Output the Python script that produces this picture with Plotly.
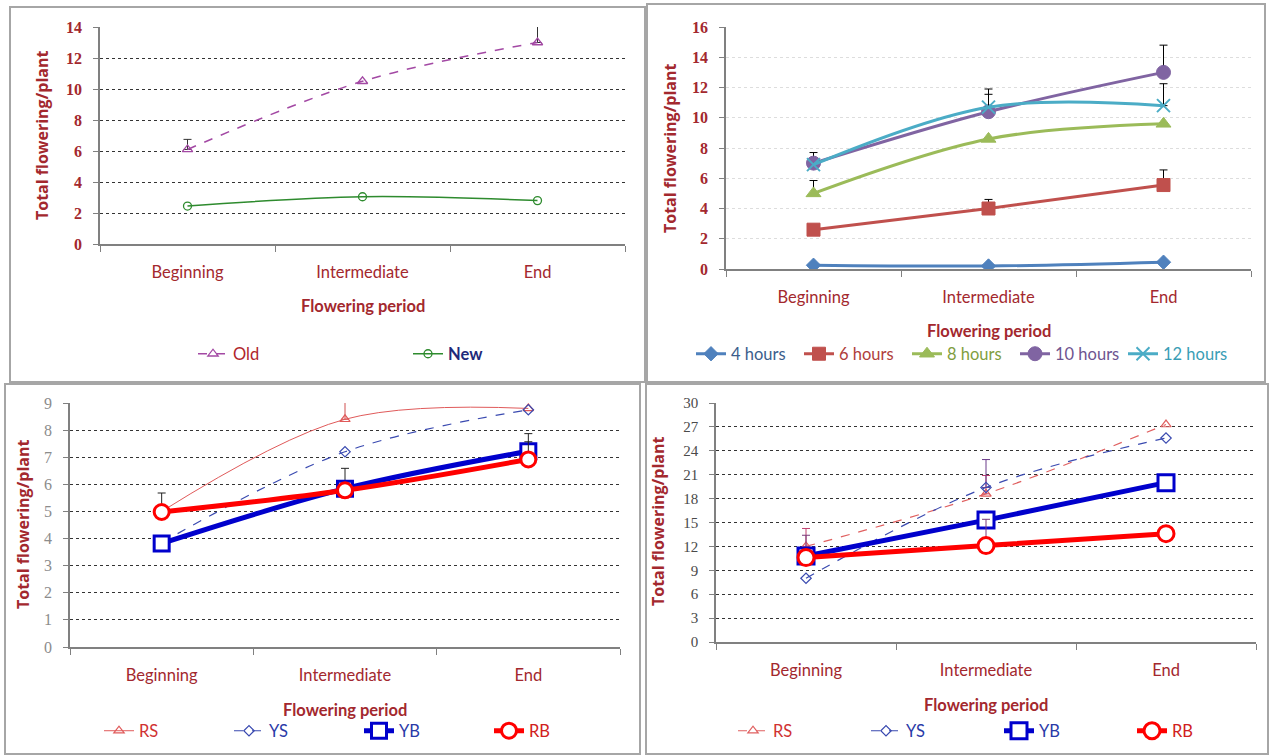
import plotly.graph_objects as go

W, H = 1270, 755

categories = ["Beginning", "Intermediate", "End"]

# Panel A: old vs new
old_vals = [6.1, 10.5, 13.0]
old_err = [0.65, None, 1.05]
new_vals = [2.45, 3.05, 2.8]

# Panel B: photoperiod
h4_vals = [0.25, 0.2, 0.45]
h6_vals = [2.6, 4.0, 5.55]
h6_err = [None, 0.6, 1.0]
h8_vals = [5.0, 8.6, 9.6]
h8_err = [0.85, None, None]
h10_vals = [7.0, 10.4, 13.0]
h10_err = [0.7, 1.5, 1.8]
h12_vals = [6.9, 10.7, 10.8]
h12_err = [None, 0.85, 1.45]

# Panel C
c_rs = [5.0, 8.4, 8.8]
c_rs_err = [None, 0.65, None]
c_ys = [3.85, 7.2, 8.75]
c_yb = [3.82, 5.84, 7.22]
c_yb_err = [None, 0.75, 0.65]
c_rb = [4.98, 5.78, 6.92]
c_rb_err = [0.7, None, 0.65]

# Panel D
d_rs = [12.0, 18.6, 27.3]
d_rs_err = [2.25, 2.3, None]
d_ys = [8.0, 19.4, 25.6]
d_ys_err = [None, 3.5, None]
d_yb = [10.8, 15.3, 20.0]
d_yb_err = [2.6, None, None]
d_rb = [10.6, 12.1, 13.6]
d_rb_err = [None, 3.3, None]

DARKRED = "#A3282E"


def px_x(x):
    return x / W


def px_y(y):
    return 1 - y / H


def err(e, color, thick=1.0):
    if e is None:
        return None
    return dict(type="data", symmetric=False,
                array=[v if v is not None else "NA" for v in e],
                color=color, thickness=thick, width=4)


fig = go.Figure()


def add(xa, ya, legend, name, name_color, vals, color, width, dash, symbol,
        msize, mlw, mfill=None, errs=None, ecolor="black", shape="spline"):
    marker = dict(symbol=symbol, size=msize, color=mfill if mfill else color,
                  line=dict(color=color, width=mlw))
    fig.add_trace(go.Scatter(
        x=categories, y=vals, xaxis=xa, yaxis=ya, legend=legend,
        name=f"<span style='color:{name_color}'>{name}</span>",
        mode="lines+markers",
        line=dict(color=color, width=width, dash=dash, shape=shape, smoothing=1),
        marker=marker, error_y=err(errs, ecolor), hoverinfo="skip"))


# Panel A
add("x", "y", "legend", "Old", "#B0262C", old_vals, "#A349A4", 1.5, "dash",
    "triangle-up-open", 9, 1.3, errs=old_err, ecolor="#333333")
add("x", "y", "legend", "<b>New</b>", "#1F2A7A", new_vals, "#2E8B2E", 1.5, "solid",
    "circle-open", 8, 1.3)

# Panel B
add("x2", "y2", "legend2", "4 hours", "#3B5E8C", h4_vals, "#4F81BD", 3, "solid",
    "diamond", 11, 1)
add("x2", "y2", "legend2", "6 hours", "#B0403C", h6_vals, "#C0504D", 3, "solid",
    "square", 13, 1, errs=h6_err)
add("x2", "y2", "legend2", "8 hours", "#7F9E3E", h8_vals, "#9BBB59", 3, "solid",
    "triangle-up", 13, 1, errs=h8_err)
add("x2", "y2", "legend2", "10 hours", "#6E5490", h10_vals, "#8064A2", 3, "solid",
    "circle", 14, 1, errs=h10_err)
add("x2", "y2", "legend2", "12 hours", "#3A9DB5", h12_vals, "#4BACC6", 3, "solid",
    "x-thin-open", 13, 2, errs=h12_err)

# Panel C
add("x3", "y3", "legend3", "RS", "#D03232", c_rs, "#E05A5A", 1, "solid",
    "triangle-up-open", 9, 1.2, errs=c_rs_err, ecolor="#D05050")
add("x3", "y3", "legend3", "YS", "#2A3AA8", c_ys, "#3A4AB0", 1.2, "dash",
    "diamond-open", 8, 1.2)
add("x3", "y3", "legend3", "YB", "#2A3AA8", c_yb, "#0000CC", 5, "solid",
    "square", 15, 3, mfill="white", errs=c_yb_err, ecolor="#222222")
add("x3", "y3", "legend3", "RB", "#D02020", c_rb, "#FF0000", 5, "solid",
    "circle", 15, 3, mfill="white", errs=c_rb_err, ecolor="#222222")

# Panel D
add("x4", "y4", "legend4", "RS", "#D03232", d_rs, "#E06060", 1.2, "dash",
    "triangle-up-open", 9, 1.2, errs=d_rs_err, ecolor="#C04070")
add("x4", "y4", "legend4", "YS", "#2A3AA8", d_ys, "#3A4AB0", 1.2, "dash",
    "diamond-open", 8, 1.2, errs=d_ys_err, ecolor="#6A3A8A")
add("x4", "y4", "legend4", "YB", "#2A3AA8", d_yb, "#0000CC", 5, "solid",
    "square", 16, 3, mfill="white", errs=d_yb_err, ecolor="#7A3A7A")
add("x4", "y4", "legend4", "RB", "#D02020", d_rb, "#FF0000", 5, "solid",
    "circle", 16, 3, mfill="white", errs=d_rb_err, ecolor="#7A3A7A")


def xaxis(x0, x1, anchor):
    return dict(domain=[px_x(x0), px_x(x1)], anchor=anchor, type="category",
                categoryorder="array", categoryarray=categories,
                range=[-0.5, 2.5], tickson="boundaries", ticks="outside",
                ticklen=6, tickcolor="#808080", showline=True,
                linecolor="#808080", linewidth=1.5, showgrid=False,
                zeroline=False, ticklabelstandoff=12,
                tickfont=dict(family="Lato", size=16.5, color=DARKRED))


def yaxis(y0, y1, anchor, rng, dtick, tickfont, gridcolor="#333333"):
    return dict(domain=[px_y(y1), px_y(y0)], anchor=anchor, range=rng,
                dtick=dtick, tick0=0, ticks="outside", ticklen=5,
                tickcolor="#808080", showline=True, linecolor="#808080",
                linewidth=1.5, showgrid=True, gridcolor=gridcolor,
                griddash="dot", gridwidth=1, zeroline=False,
                ticklabelstandoff=8, tickfont=tickfont)


serif_bold = dict(family="Liberation Serif", size=16, color=DARKRED, weight="bold")

fig.update_layout(
    width=W, height=H, margin=dict(l=0, r=0, t=0, b=0, autoexpand=False),
    paper_bgcolor="white", plot_bgcolor="white",
    xaxis=xaxis(100, 625, "y"),
    yaxis=yaxis(27, 244, "x", [0, 14], 2, serif_bold),
    xaxis2=xaxis(726, 1251, "y2"),
    yaxis2=yaxis(27, 269, "x2", [0, 16], 2, serif_bold, gridcolor="#DDDDDD"),
    yaxis5=dict(overlaying="y2", anchor="x2", range=[0, 16], dtick=4, tick0=0,
                showgrid=True, gridcolor="#333333", griddash="dot",
                showticklabels=False, ticks="", showline=False, zeroline=False),
    xaxis3=xaxis(70, 620, "y3"),
    yaxis3=yaxis(403, 647, "x3", [0, 9], 1,
                 dict(family="Liberation Serif", size=16, color="#8C8C8C")),
    xaxis4=xaxis(716, 1256, "y4"),
    yaxis4=yaxis(403, 642, "x4", [0, 30], 3,
                 dict(family="Liberation Serif", size=15, color="#4A4A4A")),
)

leg_common = dict(orientation="h", xanchor="left", yanchor="middle",
                  bgcolor="rgba(0,0,0,0)", font=dict(family="Lato", size=16.5),
                  itemclick=False, itemdoubleclick=False)
fig.update_layout(
    legend=dict(leg_common, x=px_x(193), y=px_y(354), entrywidth=170,
                entrywidthmode="pixels"),
    legend2=dict(leg_common, x=px_x(691), y=px_y(354), entrywidth=63,
                 entrywidthmode="pixels"),
    legend3=dict(leg_common, x=px_x(99), y=px_y(731), entrywidth=85,
                 entrywidthmode="pixels"),
    legend4=dict(leg_common, x=px_x(733), y=px_y(731), entrywidth=88,
                 entrywidthmode="pixels"),
)


def title_ann(text, x, y, angle=0, size=16.5, family="Lato"):
    return dict(text=f"<b>{text}</b>", x=px_x(x), y=px_y(y), xref="paper",
                yref="paper", showarrow=False, textangle=angle,
                font=dict(family=family, size=size, color=DARKRED),
                xanchor="center", yanchor="middle")


anns = [
    title_ann("Flowering period", 363, 306),
    title_ann("Flowering period", 989, 331),
    title_ann("Flowering period", 345, 710),
    title_ann("Flowering period", 986, 705),
    title_ann("Total flowering/plant", 42, 136, -90, 16, "Open Sans"),
    title_ann("Total flowering/plant", 670, 148, -90, 16, "Open Sans"),
    title_ann("Total flowering/plant", 23, 525, -90, 16, "Open Sans"),
    title_ann("Total flowering/plant", 658, 522, -90, 16, "Open Sans"),
]

shapes = []
for (x0, y0, x1, y1) in [(10, 7, 645, 382), (647, 4, 1265, 382),
                         (5, 384, 640, 754), (646, 384, 1268, 754)]:
    shapes.append(dict(type="rect", xref="paper", yref="paper",
                       x0=px_x(x0), x1=px_x(x1), y0=px_y(y1), y1=px_y(y0),
                       line=dict(color="#A6A6A6", width=2), layer="below"))

fig.update_layout(annotations=anns, shapes=shapes)

fig.write_html("out.html", post_script="document.body.style.margin='0';",
               config={"displayModeBar": False})
